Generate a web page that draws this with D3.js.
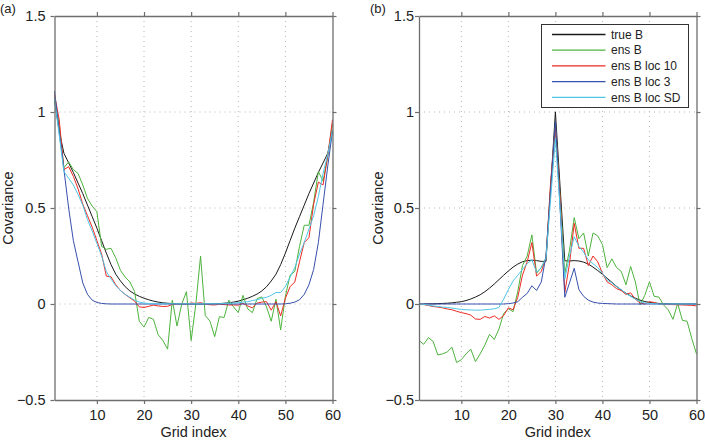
<!DOCTYPE html>
<html>
<head>
<meta charset="utf-8">
<script src="https://cdn.jsdelivr.net/npm/d3@7"></script>
<style>
  html, body { margin: 0; padding: 0; background: #fff; }
  svg { display: block; font-family: "Liberation Sans", Arial, Helvetica, sans-serif; }
</style>
</head>
<body>
<svg id="chart" width="705" height="441"></svg>
<script>
// ---------------- data ----------------
const gridIndex = d3.range(1, 61);               // categories: grid points 1..60
const xTicks = [10, 20, 30, 40, 50, 60];
const yTicks = [-0.5, 0, 0.5, 1, 1.5];
const yTickLabels = ["\u22120.5", "0", "0.5", "1", "1.5"];
const seriesNames = ["true B", "ens B", "ens B loc 10", "ens B loc 3", "ens B loc SD"];
const seriesColors = ["#1a1a1a", "#4db33d", "#ee2a24", "#3650ad", "#4fc6e6"];
const panelTags = ["(a)", "(b)"];
const xLabel = "Grid index";
const yLabel = "Covariance";

// panel (a)
const aTrue = [1.06,0.90,0.785,0.735,0.685,0.63,0.575,0.515,0.455,0.395,
  0.33,0.265,0.205,0.155,0.12,0.09,0.068,0.052,0.04,0.03,
  0.022,0.015,0.01,0.006,0.004,0.002,0.001,0,0,0,
  0,0,0,0,0.001,0.002,0.004,0.006,0.01,0.015,
  0.022,0.03,0.04,0.052,0.068,0.09,0.12,0.155,0.205,0.265,
  0.33,0.395,0.455,0.515,0.575,0.63,0.685,0.735,0.785,0.90];
const aEns = [1.08,0.93,0.71,0.74,0.70,0.68,0.62,0.55,0.51,0.48,
  0.30,0.285,0.29,0.24,0.175,0.14,0.115,0.065,-0.09,-0.12,
  -0.07,-0.08,-0.16,-0.19,-0.235,0.02,-0.115,0.0,0.064,-0.19,
  0.0,0.25,-0.06,-0.09,-0.17,-0.066,-0.07,0.02,-0.015,-0.045,
  0.045,-0.025,-0.045,0.028,0.037,-0.015,-0.09,0.025,-0.135,0.04,
  0.15,0.17,0.30,0.41,0.41,0.53,0.69,0.64,0.77,0.94];
const aLoc10 = [1.09,0.96,0.70,0.715,0.665,0.60,0.52,0.46,0.40,0.33,
  0.26,0.145,0.142,0.10,0.07,0.05,0.032,0.015,-0.015,-0.018,
  -0.012,-0.006,-0.01,-0.013,-0.012,-0.002,0.0,0.002,0.0,0.005,
  0.003,0.007,0.0,-0.004,-0.005,-0.002,-0.003,-0.005,-0.005,-0.006,
  0.003,-0.01,-0.02,0.005,0.01,0.012,-0.032,0.012,-0.062,0.03,
  0.09,0.115,0.22,0.32,0.345,0.52,0.635,0.62,0.775,0.96];
const aLoc3 = [1.11,0.90,0.70,0.50,0.33,0.22,0.11,0.05,0.02,0.008,
  0.003,0.001,0,0,0,0,0,0,0,0,
  0,0,0,0,0,0,0,0,0,0,
  0,0,0,0,0,0,0,0,0,0,
  0,0,0,0,0,0,0,0,0,0.001,
  0.004,0.01,0.022,0.05,0.1,0.18,0.32,0.52,0.72,0.90];
const aLocSD = [1.07,0.88,0.69,0.655,0.62,0.57,0.515,0.44,0.38,0.315,
  0.25,0.17,0.13,0.095,0.07,0.05,0.035,0.02,0.01,0.005,
  0.003,0.002,0.001,0.001,0.001,0.001,0.001,0.001,0.001,0.001,
  0.001,0.001,0.001,0.001,0.001,0.001,0.003,0.004,0.005,0.007,
  0.01,0.012,0.018,0.022,0.03,0.035,0.045,0.06,0.06,0.09,
  0.14,0.19,0.26,0.32,0.39,0.46,0.56,0.68,0.78,0.905];

// panel (b)
const bTrue = [0,0,0.001,0.001,0.002,0.003,0.004,0.006,0.009,0.012,
  0.018,0.026,0.036,0.048,0.064,0.083,0.104,0.127,0.15,0.172,
  0.192,0.208,0.22,0.226,0.228,0.226,0.222,0.222,0.61,1.0,
  0.61,0.225,0.224,0.226,0.224,0.218,0.208,0.192,0.174,0.155,
  0.134,0.113,0.092,0.073,0.056,0.042,0.03,0.02,0.013,0.008,
  0.005,0.003,0.002,0.001,0,0,0,0,0,0];
const bEns = [-0.19,-0.21,-0.175,-0.195,-0.265,-0.26,-0.25,-0.225,-0.305,-0.29,
  -0.26,-0.235,-0.30,-0.26,-0.214,-0.158,-0.185,-0.13,-0.05,-0.025,
  -0.04,0.065,0.20,0.25,0.36,0.16,0.19,0.24,0.62,0.93,
  0.55,0.16,0.28,0.45,0.34,0.37,0.25,0.37,0.355,0.31,
  0.19,0.235,0.19,0.17,0.10,0.195,0.115,-0.005,0.045,0.115,
  0.04,0.036,-0.005,-0.03,-0.08,0.003,-0.085,-0.09,-0.18,-0.26];
const bLoc10 = [0.0,-0.003,-0.008,-0.013,-0.016,-0.02,-0.026,-0.03,-0.038,-0.045,
  -0.05,-0.058,-0.078,-0.08,-0.065,-0.073,-0.062,-0.08,-0.06,-0.02,
  -0.03,0.035,0.15,0.22,0.32,0.145,0.17,0.24,0.64,0.92,
  0.55,0.06,0.21,0.42,0.29,0.29,0.20,0.25,0.22,0.16,
  0.115,0.10,0.08,0.07,0.05,0.058,0.025,0.005,0.0,0.012,
  0.008,0.0,-0.002,-0.003,-0.003,-0.004,-0.005,-0.006,-0.007,-0.01];
const bLoc3 = [0,0,0,0,0,0,0,0,0,0,
  0,0,0,0,0,0,0,0,0,0.002,
  0.005,0.012,0.035,0.055,0.095,0.07,0.115,0.25,0.60,0.95,
  0.50,0.035,0.11,0.186,0.075,0.04,0.02,0.01,0.005,0.003,
  0.002,0.001,0,0,0,0,0,0,0,0,
  0,0,0,0,0,0,0,0,0,0];
const bLocSD = [0.0,-0.002,-0.006,-0.01,-0.013,-0.016,-0.018,-0.021,-0.025,-0.028,
  -0.03,-0.031,-0.032,-0.032,-0.03,-0.028,-0.025,-0.018,0.025,0.075,
  0.12,0.15,0.18,0.21,0.23,0.165,0.19,0.24,0.55,0.86,
  0.50,0.13,0.25,0.35,0.30,0.27,0.23,0.21,0.19,0.16,
  0.125,0.11,0.09,0.075,0.055,0.04,0.025,0.012,0.006,0.003,
  0.001,0,0,0,0,0,0,0,0,0];

const panelSeries = [
  [aTrue, aEns, aLoc10, aLoc3, aLocSD],
  [bTrue, bEns, bLoc10, bLoc3, bLocSD]
];

// ---------------- layout ----------------
const svg = d3.select("#chart");
const yTop = 16, yBot = 400;
const panels = [
  { x0: 54.5, x1: 332.5, labelGap: 9, yLabelX: 13, tagX: 0 },
  { x0: 419, x1: 696.5, labelGap: 5, yLabelX: 383, tagX: 370 }
];
const axisColor = "#6e6e6e";
const textColor = "#222";

const y = d3.scaleLinear().domain([-0.5, 1.5]).range([yBot, yTop]);

panels.forEach((p, pi) => {
  const x = d3.scaleLinear().domain([1, 60]).range([p.x0, p.x1]);
  const g = svg.append("g");

  // dotted grid
  const gridX = xTicks.filter(t => t < 60);
  g.selectAll(".gx").data(gridX).join("line")
    .attr("x1", d => x(d)).attr("x2", d => x(d))
    .attr("y1", yTop).attr("y2", yBot)
    .attr("stroke", "#b5b5b5").attr("stroke-width", 1)
    .attr("stroke-dasharray", "1,4");
  const gridY = yTicks.filter(t => t > -0.5 && t < 1.5);
  g.selectAll(".gy").data(gridY).join("line")
    .attr("x1", p.x0).attr("x2", p.x1)
    .attr("y1", d => y(d)).attr("y2", d => y(d))
    .attr("stroke", "#b5b5b5").attr("stroke-width", 1)
    .attr("stroke-dasharray", "1,4");

  // series lines
  const line = d3.line().x((d, i) => x(gridIndex[i])).y(d => y(d));
  panelSeries[pi].forEach((vals, si) => {
    g.append("path")
      .datum(vals)
      .attr("d", line)
      .attr("fill", "none")
      .attr("stroke", seriesColors[si])
      .attr("stroke-width", 1)
      .attr("stroke-linejoin", "round");
  });

  // axes (ticks outward)
  const fmtY = d => yTickLabels[yTicks.indexOf(d)];
  const axB = g.append("g").attr("transform", `translate(0,${yBot})`)
    .call(d3.axisBottom(x).tickValues(xTicks).tickSize(4).tickSizeOuter(0).tickPadding(4));
  const axT = g.append("g").attr("transform", `translate(0,${yTop})`)
    .call(d3.axisTop(x).tickValues(xTicks).tickSize(4).tickSizeOuter(0).tickFormat(""));
  const axL = g.append("g").attr("transform", `translate(${p.x0},0)`)
    .call(d3.axisLeft(y).tickValues(yTicks).tickSize(4).tickSizeOuter(0).tickPadding(p.labelGap - 4).tickFormat(fmtY));
  const axR = g.append("g").attr("transform", `translate(${p.x1},0)`)
    .call(d3.axisRight(y).tickValues(yTicks).tickSize(4).tickSizeOuter(0).tickFormat(""));
  [axB, axT, axL, axR].forEach(a => {
    a.select(".domain").attr("stroke", axisColor).attr("stroke-width", 1.3);
    a.selectAll(".tick line").attr("stroke", axisColor).attr("stroke-width", 1.2);
    a.selectAll(".tick text").attr("fill", textColor)
      .style("font-size", "14.5px")
      .style("font-family", '"Liberation Sans", Arial, sans-serif');
  });
  axB.selectAll(".tick text").attr("dy", null).attr("y", 20);

  // axis titles
  g.append("text")
    .attr("x", (p.x0 + p.x1) / 2).attr("y", 437)
    .attr("text-anchor", "middle")
    .attr("fill", textColor).style("font-size", "14.5px")
    .text(xLabel);
  g.append("text")
    .attr("transform", `translate(${p.yLabelX},${(yTop + yBot) / 2}) rotate(-90)`)
    .attr("text-anchor", "middle")
    .attr("fill", textColor).style("font-size", "14.5px")
    .text(yLabel);

  // panel tag
  g.append("text")
    .attr("x", p.tagX).attr("y", 13)
    .attr("fill", textColor).style("font-size", "13px")
    .text(panelTags[pi]);
});

// ---------------- legend (panel b) ----------------
const leg = svg.append("g");
const lx = 541.5, ly = 24.5, lw = 147, lh = 83;
leg.append("rect").attr("x", lx).attr("y", ly).attr("width", lw).attr("height", lh)
  .attr("fill", "#fff").attr("stroke", "#333").attr("stroke-width", 1);
seriesNames.forEach((name, i) => {
  const cy = 34.5 + i * 15.7;
  leg.append("line").attr("x1", 552).attr("x2", 605.5).attr("y1", cy).attr("y2", cy)
    .attr("stroke", seriesColors[i]).attr("stroke-width", i === 0 ? 1.6 : 1.2);
  leg.append("text").attr("x", 611).attr("y", cy).attr("dy", "0.35em")
    .attr("fill", textColor).style("font-size", "12px")
    .text(name);
});
</script>
</body>
</html>
